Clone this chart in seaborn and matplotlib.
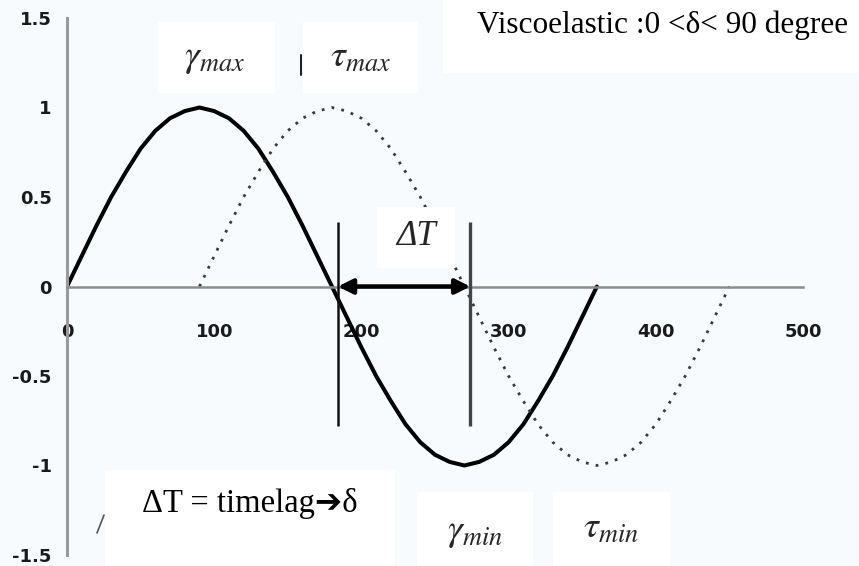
import matplotlib
matplotlib.use("Agg")
import matplotlib.pyplot as plt
from matplotlib.patches import Rectangle
from matplotlib.lines import Line2D
import seaborn as sns

# Strain (solid) and stress (dotted) over one cycle, phase angle in degrees
strain_deg = [0, 10, 20, 30, 40, 50, 60, 70, 80, 90, 100, 110, 120, 130, 140, 150, 160, 170, 180,
              190, 200, 210, 220, 230, 240, 250, 260, 270, 280, 290, 300, 310, 320, 330, 340, 350, 360]
strain = [0.0, 0.17, 0.34, 0.5, 0.64, 0.77, 0.87, 0.94, 0.98, 1.0, 0.98, 0.94, 0.87, 0.77, 0.64, 0.5, 0.34, 0.17, 0.0,
          -0.17, -0.34, -0.5, -0.64, -0.77, -0.87, -0.94, -0.98, -1.0, -0.98, -0.94, -0.87, -0.77, -0.64, -0.5, -0.34, -0.17, 0.0]
stress_deg = [90, 100, 110, 120, 130, 140, 150, 160, 170, 180, 190, 200, 210, 220, 230, 240, 250, 260, 270,
              280, 290, 300, 310, 320, 330, 340, 350, 360, 370, 380, 390, 400, 410, 420, 430, 440, 450]
stress = [0.0, 0.17, 0.34, 0.5, 0.64, 0.77, 0.87, 0.94, 0.98, 1.0, 0.98, 0.94, 0.87, 0.77, 0.64, 0.5, 0.34, 0.17, 0.0,
          -0.17, -0.34, -0.5, -0.64, -0.77, -0.87, -0.94, -0.98, -1.0, -0.98, -0.94, -0.87, -0.77, -0.64, -0.5, -0.34, -0.17, 0.0]

x_ticks = [0, 100, 200, 300, 400, 500]
y_ticks = [-1.5, -1, -0.5, 0, 0.5, 1, 1.5]
y_tick_labels = ["-1.5", "-1", "-0.5", "0", "0.5", "1", "1.5"]

# Time-lag markers between the strain zero crossing and the stress zero crossing
lag_x = [184, 274]
lag_top, lag_bottom = 0.36, -0.78

sns.set_style("white")
plt.rcParams["mathtext.fontset"] = "stix"

W, H = 859, 566
BG = "#f8fbfe"
fig = plt.figure(figsize=(W / 100, H / 100), dpi=100, facecolor=BG)
ax = fig.add_axes([67 / W, 1 - 555 / H, (803 - 67) / W, (555 - 18) / H], facecolor=BG)

sns.lineplot(x=strain_deg, y=strain, ax=ax, color="black", linewidth=2.9, sort=False)
sns.lineplot(x=stress_deg, y=stress, ax=ax, color="#3a3a3a", linewidth=2.0,
             linestyle=(0, (1, 2.6)), sort=False)

ax.set_xlim(0, 500)
ax.set_ylim(-1.5, 1.5)

for s in ("top", "right"):
    ax.spines[s].set_visible(False)
ax.spines["bottom"].set_position(("data", 0))
ax.spines["bottom"].set_color("#8c8c8c")
ax.spines["bottom"].set_linewidth(1.8)
ax.spines["left"].set_color("#9a9a9a")
ax.spines["left"].set_linewidth(2.2)

ax.set_xticks(x_ticks)
ax.set_xticklabels([str(v) for v in x_ticks])
ax.set_yticks(y_ticks)
ax.set_yticklabels(y_tick_labels)
ax.tick_params(axis="x", direction="out", length=4, width=1.5, color="#9a9a9a",
               pad=22, labelsize=13)
ax.tick_params(axis="y", direction="inout", length=6, width=1.5, color="#555555",
               pad=8, labelsize=13)
for lab in ax.get_xticklabels() + ax.get_yticklabels():
    lab.set_fontweight("bold")
    lab.set_color("#1a1a1a")

ax.vlines(lag_x[0], lag_bottom, lag_top, color="#111111", linewidth=1.8, zorder=4)
ax.vlines(lag_x[1], lag_bottom, lag_top, color="#444444", linewidth=2.4, zorder=4)
ax.annotate("", xy=(lag_x[1], 0), xytext=(lag_x[0], 0),
            arrowprops=dict(arrowstyle="<|-|>", color="black", lw=3.2,
                            mutation_scale=22, shrinkA=0, shrinkB=0), zorder=4)
ax.set_xlabel("")
ax.set_ylabel("")


def fx(x):
    return x / W


def fy(y):
    return 1 - y / H


def box(x0, y0, x1, y1):
    fig.add_artist(Rectangle((fx(x0), fy(y1)), (x1 - x0) / W, (y1 - y0) / H,
                             transform=fig.transFigure, facecolor="white",
                             edgecolor="none", zorder=5))


# Label boxes
box(443, 0, 859, 73)
box(158, 22, 275, 93)
box(303, 22, 418, 93)
box(377, 207, 455, 268)
box(105, 470, 395, 566)
box(417, 492, 533, 566)
box(553, 492, 670, 566)

serif = ["Liberation Serif", "DejaVu Serif"]
fig.text(fx(477), fy(33), "Viscoelastic :0 <δ< 90 degree", family=serif,
         fontsize=22.5, ha="left", va="baseline", color="black", zorder=6)
fig.text(fx(142), fy(512), "ΔT = timelag➔δ", family=["Liberation Serif", "DejaVu Sans"],
         fontsize=23.5, ha="left", va="baseline", color="black", zorder=6)
fig.text(fx(215), fy(58), r"$\gamma_{max}$", fontsize=27, ha="center", va="center", zorder=6)
fig.text(fx(361), fy(57), r"$\tau_{max}$", fontsize=27, ha="center", va="center", zorder=6)
fig.text(fx(416), fy(236), "ΔT", family=serif, style="italic", fontsize=25,
         ha="center", va="center", zorder=6)
fig.text(fx(475), fy(532), r"$\gamma_{min}$", fontsize=27, ha="center", va="center", zorder=6)
fig.text(fx(611), fy(528), r"$\tau_{min}$", fontsize=27, ha="center", va="center", zorder=6)

# Small stray strokes
fig.add_artist(Line2D([fx(301), fx(301)], [fy(55), fy(75)], transform=fig.transFigure,
                      color="#222222", linewidth=1.5, zorder=6))
fig.add_artist(Line2D([fx(97), fx(104)], [fy(533), fy(515)], transform=fig.transFigure,
                      color="#555555", linewidth=1.2, zorder=4))

fig.savefig("out.png", dpi=100, facecolor=BG)
